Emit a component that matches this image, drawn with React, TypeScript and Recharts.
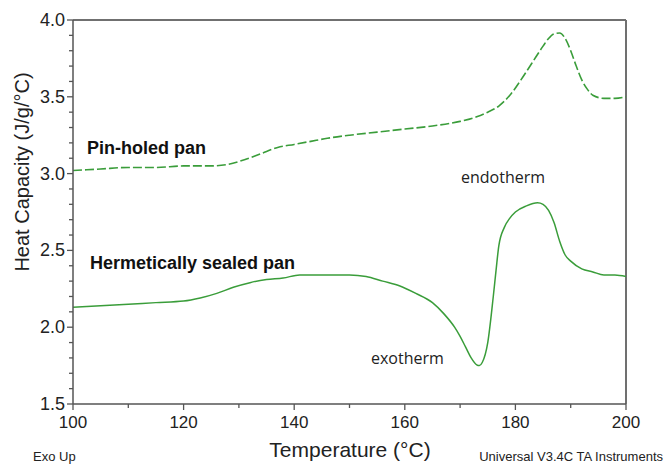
import { LineChart, Line, XAxis, YAxis, ReferenceLine } from "recharts"

// Pin-holed pan run (dashed trace)
const pinTemp = [
  100, 105, 110, 115, 120, 125, 128, 131, 134, 137, 140, 143, 146, 150, 155,
  160, 165, 170, 173, 175, 177, 179, 181, 183, 185, 186, 187, 188, 189, 190,
  191, 192, 193, 194, 196, 198, 200,
]
const pinCp = [
  3.02, 3.03, 3.04, 3.04, 3.05, 3.05, 3.06, 3.09, 3.13, 3.17, 3.19, 3.21, 3.23,
  3.25, 3.27, 3.29, 3.31, 3.34, 3.37, 3.4, 3.44, 3.51, 3.61, 3.72, 3.83, 3.88,
  3.91, 3.915, 3.88, 3.8, 3.7, 3.61, 3.55, 3.51, 3.49, 3.49, 3.5,
]

// Hermetically sealed pan run (solid trace)
const sealedTemp = [
  100, 105, 110, 115, 120, 123, 126, 129, 132, 135, 138, 141, 145, 150, 153,
  156, 159, 162, 165, 167, 169, 170, 171, 172, 173, 173.5, 174, 175, 176, 176.5,
  177, 178, 179, 180, 182, 184, 185, 186, 187, 188, 189, 190, 192, 194, 196,
  198, 200,
]
const sealedCp = [
  2.13, 2.14, 2.15, 2.16, 2.17, 2.19, 2.22, 2.26, 2.29, 2.31, 2.32, 2.34, 2.34,
  2.34, 2.33, 2.3, 2.27, 2.22, 2.16, 2.09, 2.0, 1.94, 1.87, 1.8, 1.755, 1.75,
  1.77, 1.9, 2.2, 2.37, 2.53, 2.65, 2.71, 2.75, 2.79, 2.81, 2.8, 2.76, 2.68,
  2.56, 2.47, 2.43, 2.38, 2.36, 2.34, 2.34, 2.33,
]

const xLabels = [100, 120, 140, 160, 180, 200]
const xMinor = [110, 130, 150, 170, 190]
const yLabels = [1.5, 2.0, 2.5, 3.0, 3.5, 4.0]
const yMinor = [1.6, 1.7, 1.8, 1.9, 2.1, 2.2, 2.3, 2.4, 2.6, 2.7, 2.8, 2.9, 3.1, 3.2, 3.3, 3.4, 3.6, 3.7, 3.8, 3.9]

const pinData = pinTemp.map((t, i) => ({ t, cp: pinCp[i] }))
const sealedData = sealedTemp.map((t, i) => ({ t, cp: sealedCp[i] }))

const GREEN = "#3a9d3a"
const AXIS = "#555"
const FONT = "'Liberation Sans', Arial, sans-serif"

// outward tick marks, long for labelled values, short for the in-between ones
function XTick(props: any) {
  const { x, y, payload } = props
  const major = xLabels.includes(payload.value)
  return (
    <g>
      <line x1={x} x2={x} y1={y} y2={y + (major ? 6 : 4)} stroke="#555" strokeWidth={1.3} />
      {major && (
        <text x={x} y={y + 24} textAnchor="middle" fontSize={17} fill="#222" fontFamily={FONT}>
          {payload.value}
        </text>
      )}
    </g>
  )
}

function YTick(props: any) {
  const { x, y, payload } = props
  const major = yLabels.some((v) => Math.abs(v - payload.value) < 1e-6)
  return (
    <g>
      <line x1={x} x2={x - (major ? 6 : 4)} y1={y} y2={y} stroke="#555" strokeWidth={1.3} />
      {major && (
        <text x={x - 8} y={y + 6} textAnchor="end" fontSize={18} fill="#222" fontFamily={FONT}>
          {payload.value.toFixed(1)}
        </text>
      )}
    </g>
  )
}

export default function App() {
  return (
    <div style={{ position: "absolute", left: 0, top: 0, width: 670, height: 464, background: "#fff" }}>
      <LineChart width={670} height={464} margin={{ top: 20, right: 44, bottom: 0, left: 0 }}>
        <XAxis
          type="number"
          dataKey="t"
          domain={[100, 200]}
          ticks={[...xLabels, ...xMinor].sort((a, b) => a - b)}
          tick={(p: any) => <XTick {...p} />}
          tickLine={false}
          tickSize={0}
          tickMargin={0}
          interval={0}
          height={60}
          stroke={AXIS}
          strokeWidth={1.5}
          allowDataOverflow
        />
        <YAxis
          type="number"
          dataKey="cp"
          domain={[1.5, 4.0]}
          ticks={[...yLabels, ...yMinor].sort((a, b) => a - b)}
          tick={(p: any) => <YTick {...p} />}
          tickLine={false}
          tickSize={0}
          tickMargin={0}
          width={73}
          stroke={AXIS}
          strokeWidth={1.5}
          interval={0}
          allowDataOverflow
        />
        <ReferenceLine y={4.0} stroke="#707070" strokeWidth={2} />
        <ReferenceLine x={200} stroke="#707070" strokeWidth={2} />
        <Line
          data={pinData}
          dataKey="cp"
          type="monotone"
          stroke={GREEN}
          strokeWidth={1.6}
          strokeDasharray="9 3"
          dot={false}
          isAnimationActive={false}
        />
        <Line
          data={sealedData}
          dataKey="cp"
          type="monotone"
          stroke={GREEN}
          strokeWidth={1.5}
          dot={false}
          isAnimationActive={false}
        />
      </LineChart>
      <svg
        width={670}
        height={464}
        style={{ position: "absolute", left: 0, top: 0, pointerEvents: "none" }}
      >
        <text
          x={22}
          y={172}
          transform="rotate(-90 22 172)"
          textAnchor="middle"
          dominantBaseline="central"
          fontSize={20}
          fill="#222"
          fontFamily={FONT}
        >
          Heat Capacity (J/g/°C)
        </text>
        <text x={350} y={457} textAnchor="middle" fontSize={21} fill="#222" fontFamily={FONT}>
          Temperature (°C)
        </text>
        <text x={33} y={461} fontSize={13} fill="#222" fontFamily={FONT}>
          Exo Up
        </text>
        <text x={663} y={461} textAnchor="end" fontSize={13} fill="#222" fontFamily={FONT}>
          Universal V3.4C TA Instruments
        </text>
        <text x={87} y={154} fontSize={18} fontWeight="bold" fill="#111" fontFamily={FONT}>
          Pin-holed pan
        </text>
        <text x={90} y={269} fontSize={18} fontWeight="bold" fill="#111" fontFamily={FONT}>
          Hermetically sealed pan
        </text>
        <text x={461} y={183} fontSize={16} fill="#222" fontFamily="'Open Sans', sans-serif">
          endotherm
        </text>
        <text x={371} y={364} fontSize={16} fill="#222" fontFamily="'Open Sans', sans-serif">
          exotherm
        </text>
      </svg>
    </div>
  )
}
